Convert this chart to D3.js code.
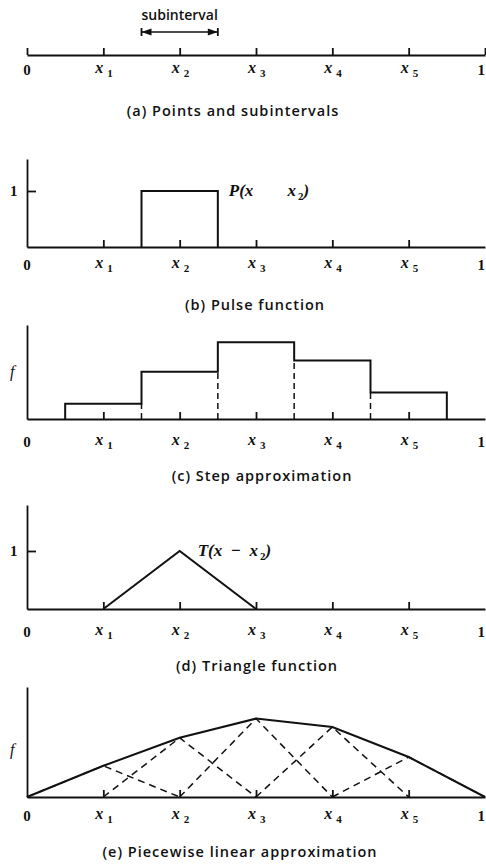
<!DOCTYPE html>
<html>
<head>
<meta charset="utf-8">
<script src="https://cdn.jsdelivr.net/npm/d3@7"></script>
<style>
body { margin: 0; background: #fff; }
.cap { font-family: "Open Sans", sans-serif; font-weight: 600; font-size: 14.5px; letter-spacing: 1px; fill: #111; }
.num { font-family: "Liberation Serif", serif; font-weight: bold; font-size: 15px; fill: #111; }
.ital { font-family: "Liberation Serif", serif; font-style: italic; font-size: 16px; fill: #111; }
.xl { font-weight: bold; }
.big { font-size: 17px; font-weight: bold; }
.sub { font-size: 11px; font-style: normal; }
</style>
</head>
<body>
<div id="chart"></div>
<script>
//Data
const nodeX = [1/6, 2/6, 3/6, 4/6, 5/6];
const nodeLabels = ['1', '2', '3', '4', '5'];
const subinterval = [1.5/6, 2.5/6];
const pulse = [1.5/6, 2.5/6]; //pulse is 1 on this range
const pulseHeight = 1;
const stepValues = [0.19, 0.59, 0.96, 0.73, 0.33];
const triangleX = [1/6, 2/6, 3/6];
const triangleY = [0, 1, 0];
const linearX = [0, 1/6, 2/6, 3/6, 4/6, 5/6, 1];
const linearValues = [0, 0.39, 0.74, 0.98, 0.875, 0.5, 0];
const captions = ['(a) Points and subintervals', '(b) Pulse function', '(c) Step approximation',
    '(d) Triangle function', '(e) Piecewise linear approximation'];

//Layout
const width = 486;
const height = 866;
const panels = [
    {base: 55, top: null, unit: 1, lab: 75, cap: 116, capX: 233},
    {base: 247, top: 159, unit: 56, lab: 270, cap: 310, capX: 255},
    {base: 419, top: 325, unit: 80, lab: 447, cap: 481, capX: 262},
    {base: 609, top: 505, unit: 58, lab: 637, cap: 671, capX: 257},
    {base: 797, top: 687, unit: 80, lab: 821, cap: 857, capX: 240}
];

const svg = d3.select('#chart').append('svg')
    .attr('width', width)
    .attr('height', height);

const x = d3.scaleLinear().domain([0, 1]).range([27, 485]);

let yScale = p => d3.scaleLinear()
    .domain([0, (p.base - p.top) / p.unit])
    .range([p.base, p.top]);

/* drawFrame(p, i)
Draws baseline, ticks, tick labels, y axis and caption of one panel
*/
let drawFrame = (p, i) => {
    const g = svg.append('g');
    const ticks = i == 0 ? [0, ...nodeX, 1] : nodeX;
    g.append('g')
        .attr('transform', `translate(0,${p.base})`)
        .call(d3.axisTop(x).tickValues(ticks).tickSize(7).tickSizeOuter(0).tickFormat(''))
        .call(a => a.selectAll('path, line').attr('stroke', '#111').attr('stroke-width', 1.8));

    if (p.top != null) {
        const y = yScale(p);
        g.append('g')
            .attr('transform', `translate(${x(0)},0)`)
            .call(d3.axisRight(y).tickValues(i == 2 || i == 4 ? [] : [1]).tickSize(9).tickSizeOuter(0).tickFormat(''))
            .call(a => a.selectAll('path, line').attr('stroke', '#111').attr('stroke-width', 1.8));
        if (i == 2 || i == 4) {
            g.append('text').attr('class', 'ital')
                .attr('x', 10).attr('y', y(0.6) + 6).text('f');
        } else {
            g.append('text').attr('class', 'num')
                .attr('x', 10).attr('y', y(1) + 5).text('1');
        }
    }

    g.append('text').attr('class', 'num')
        .attr('x', x(0)).attr('y', p.lab).attr('text-anchor', 'middle').text('0');
    g.append('text').attr('class', 'num')
        .attr('x', width - 1).attr('y', p.lab).attr('text-anchor', 'end').text('1');

    const lab = g.selectAll('.xl').data(nodeX).enter()
        .append('text').attr('class', 'ital xl')
        .attr('x', d => x(d) - 8).attr('y', p.lab - 2);
    lab.append('tspan').text('x');
    lab.append('tspan').attr('class', 'sub').attr('dx', 4).attr('dy', 4)
        .text((d, k) => nodeLabels[k]);

    g.append('text').attr('class', 'cap')
        .attr('x', p.capX).attr('y', p.cap).attr('text-anchor', 'middle')
        .text(captions[i]);
    return g;
}

const gs = panels.map(drawFrame);

//(a) subinterval arrow
const ay = 32;
const ga = gs[0];
ga.append('line')
    .attr('x1', x(subinterval[0])).attr('x2', x(subinterval[1]))
    .attr('y1', ay).attr('y2', ay)
    .attr('stroke', '#111').attr('stroke-width', 1.5);
subinterval.forEach((v, k) => {
    const dir = k == 0 ? 1 : -1;
    ga.append('line')
        .attr('x1', x(v)).attr('x2', x(v)).attr('y1', ay - 4).attr('y2', ay + 4)
        .attr('stroke', '#111').attr('stroke-width', 1.8);
    ga.append('path')
        .attr('d', `M${x(v)},${ay} l${dir * 10},-3.5 l0,7 Z`)
        .attr('fill', '#111');
});
ga.append('text')
    .attr('x', x(d3.mean(subinterval))).attr('y', 20)
    .attr('text-anchor', 'middle')
    .style('font-family', '"Open Sans", sans-serif').style('font-size', '14px').style('font-weight', '600')
    .attr('fill', '#111')
    .text('subinterval');

//(b) pulse
const yb = yScale(panels[1]);
gs[1].append('path')
    .attr('d', d3.line()([[x(pulse[0]), yb(0)], [x(pulse[0]), yb(pulseHeight)],
        [x(pulse[1]), yb(pulseHeight)], [x(pulse[1]), yb(0)]]))
    .attr('fill', 'none').attr('stroke', '#111').attr('stroke-width', 2);
const pl = gs[1].append('text').attr('class', 'ital big')
    .attr('x', x(pulse[1]) + 11).attr('y', yb(pulseHeight) + 5);
pl.append('tspan').text('P(x');
pl.append('tspan').attr('dx', 34).text('x');
pl.append('tspan').attr('class', 'sub').attr('dx', 2).attr('dy', 4).text('2');
pl.append('tspan').attr('dy', -4).text(')');

//(c) step approximation
const yc = yScale(panels[2]);
const half = 1 / 12;
const stepPts = [];
stepValues.forEach((v, k) => {
    if (k == 0) stepPts.push([x(nodeX[k] - half), yc(0)]);
    stepPts.push([x(nodeX[k] - half), yc(v)]);
    stepPts.push([x(nodeX[k] + half), yc(v)]);
});
stepPts.push([x(nodeX[4] + half), yc(0)]);
gs[2].append('path')
    .attr('d', d3.line()(stepPts))
    .attr('fill', 'none').attr('stroke', '#111').attr('stroke-width', 2);
gs[2].selectAll('.dash').data(d3.range(4)).enter()
    .append('line')
    .attr('x1', k => x(nodeX[k] + half)).attr('x2', k => x(nodeX[k] + half))
    .attr('y1', yc(0))
    .attr('y2', k => yc(Math.min(stepValues[k], stepValues[k + 1])))
    .attr('stroke', '#111').attr('stroke-width', 1.5).attr('stroke-dasharray', '6,4');

//(d) triangle
const yd = yScale(panels[3]);
gs[3].append('path')
    .attr('d', d3.line().x(d => x(d)).y((d, k) => yd(triangleY[k]))(triangleX))
    .attr('fill', 'none').attr('stroke', '#111').attr('stroke-width', 2);
const tl = gs[3].append('text').attr('class', 'ital big')
    .attr('x', x(triangleX[1]) + 18).attr('y', yd(1) + 5)
    .attr('xml:space', 'preserve');
tl.append('tspan').text('T(x  −  x');
tl.append('tspan').attr('class', 'sub').attr('dx', 2).attr('dy', 4).text('2');
tl.append('tspan').attr('dy', -4).text(')');

//(e) piecewise linear with hat functions
const ye = yScale(panels[4]);
const hats = d3.range(1, 6).map(k => [
    [linearX[k - 1], 0], [linearX[k], linearValues[k]], [linearX[k + 1], 0]]);
gs[4].selectAll('.hat').data(hats).enter()
    .append('path')
    .attr('d', d3.line().x(d => x(d[0])).y(d => ye(d[1])))
    .attr('fill', 'none').attr('stroke', '#111').attr('stroke-width', 1.5)
    .attr('stroke-dasharray', '7,5');
gs[4].append('path')
    .attr('d', d3.line().x(d => x(d)).y((d, k) => ye(linearValues[k]))(linearX))
    .attr('fill', 'none').attr('stroke', '#111').attr('stroke-width', 2);
</script>
</body>
</html>
